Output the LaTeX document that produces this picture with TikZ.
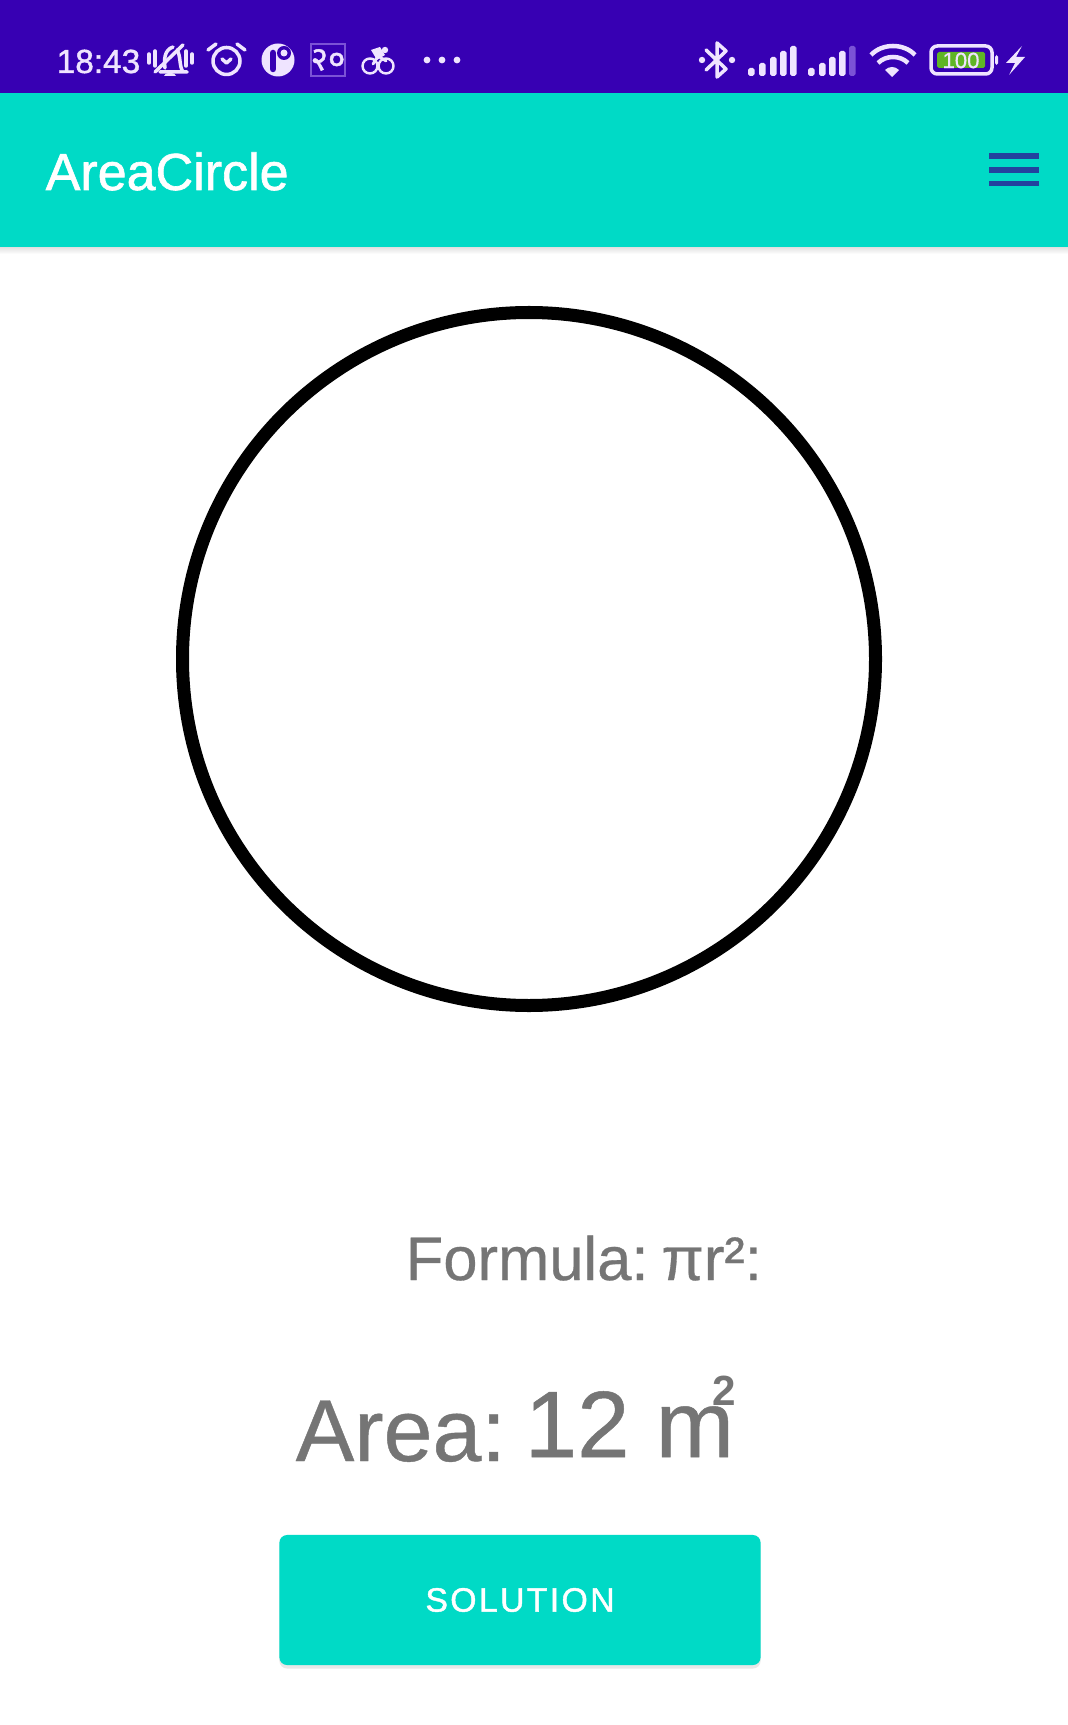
\documentclass[tikz,border=0pt]{standalone}
\usepackage{xcolor}
\usepackage{fontspec}
\setmainfont{Liberation Sans}
\newfontfamily\regfont[FakeBold=0.5]{Liberation Sans}
\newfontfamily\medfont[FakeBold=1.2]{Liberation Sans}
\newfontfamily\devafont[Script=Devanagari,FakeBold=1.2]{Noto Sans}
\usetikzlibrary{positioning,calc,shadows}

\definecolor{statusbg}{HTML}{3700B3}
\definecolor{tealbg}{HTML}{00DAC6}
\definecolor{iconfg}{HTML}{EFE4FF}
\definecolor{iconlow}{HTML}{7B52D6}
\definecolor{menublue}{HTML}{23429E}
\definecolor{textgray}{HTML}{757575}
\definecolor{battgreen}{HTML}{5FB526}

\tikzset{
    label/.style={inner sep=0pt, anchor=base west},
    icon/.style={draw=iconfg, line width=1pt, line cap=round, line join=round},
    menuline/.style={draw=menublue, line width=5.5*0.2845pt}
}

\begin{document}
\begin{tikzpicture}[x=0.01cm, y=-0.01cm]

    \useasboundingbox (0,0) rectangle (1068,1725);
    \fill[white] (0,0) rectangle (1068,1725);

    % Bars
    \fill[top color=black!12, bottom color=white] (0,247) rectangle (1068,254);
    \fill[tealbg] (0,93) rectangle (1068,247);
    \fill[statusbg] (0,0) rectangle (1068,93);

    % Status bar, left
    \node[label, text=iconfg, font=\medfont\fontsize{9.5pt}{12pt}\selectfont] (clock) at (56,73) {18:43};

    % Muted bell
    \draw[icon] (149,54) -- (149,63) (155,51) -- (155,66) (186,51) -- (186,66) (192,54) -- (192,63);
    \draw[icon] (160,72) -- (187,72) (183,72) .. controls (179,66) and (181,56) .. (177,50);
    \draw[icon] (165,68) .. controls (164,60) and (164,50) .. (173,47);
    \draw[icon] (155,72) -- (183,45);
    \fill[iconfg] (164,76) -- (176,76) arc (0:-180:6 and 3) -- cycle;

    % Alarm
    \draw[icon] (226.5,61) circle (13.5);
    \draw[icon] (208,50) -- (216,44) (245,50) -- (237,44);
    \draw[icon] (222,59) -- (226.5,63) -- (231,59);

    % Round badge
    \fill[iconfg] (278,60) circle (16.5);
    \draw[statusbg, line width=6.5*0.2845pt, line cap=round] (273,53) -- (273,69);
    \fill[statusbg] (284,53) circle (7);
    \fill[iconfg] (284,53) circle (3.5);

    % Boxed digits
    \node[draw=iconlow, line width=0.6pt, minimum width=32*0.2845pt, minimum height=32*0.2845pt, inner sep=0pt,
          text=iconfg, font=\devafont\fontsize{9.5pt}{10pt}\selectfont] (digits) at (328,60) {२०};

    % Cyclist
    \draw[icon, line width=0.7pt] (370,66) circle (7.5) (386,66) circle (7.5);
    \draw[icon, line width=0.8pt] (373,64) -- (378,56) -- (386,61);
    \fill[iconfg] (385,50) circle (3.2);
    \fill[iconfg] (371,50) -- (380,47) -- (385,55) -- (377,60) -- cycle;

    % Dots
    \foreach \x in {427,442,457}
        \fill[iconfg] (\x,60) circle (3.4);

    % Bluetooth
    \draw[icon] (706,50) -- (726,69) -- (717,77) -- (717,43) -- (726,51) -- (706,70);
    \fill[iconfg] (702,60) circle (3.2) (732,60) circle (3.2);

    % Signal bars
    \foreach \x/\t in {748/68,759/63,770/57,780/51,790/46}
        \fill[iconfg, rounded corners=0.5pt] (\x,76) rectangle ++(6.5,\t-76);
    \foreach \x/\t in {808/68,819/63,829/57,839/51}
        \fill[iconfg, rounded corners=0.5pt] (\x,76) rectangle ++(6.5,\t-76);
    \fill[iconlow, rounded corners=0.5pt] (849,76) rectangle (855.5,46);

    % Wifi
    \draw[icon, line width=4.5*0.2845pt, line cap=butt] (871,55) .. controls (882,43) and (904,43) .. (915,55);
    \draw[icon, line width=4.5*0.2845pt, line cap=butt] (878,63) .. controls (886,55) and (900,55) .. (908,63);
    \fill[iconfg] (892,77) -- (885,70) .. controls (889,66) and (895,66) .. (899,70) -- cycle;

    % Battery
    \draw[icon, rounded corners=1.8pt] (931,46) rectangle (992,74);
    \fill[battgreen, rounded corners=0.5pt] (937,52) rectangle (985,68);
    \node[text=iconfg, inner sep=0pt, font=\regfont\fontsize{6.3pt}{7pt}\selectfont] (battery) at (961,60.5) {100};
    \fill[iconfg, rounded corners=0.5pt] (995,55) rectangle (998,65);

    % Bolt
    \fill[iconfg] (1022,46) -- (1006,63) -- (1015,63) -- (1009,75) -- (1025,57) -- (1016,57) -- cycle;

    % App bar
    \node[label, text=white, font=\medfont\fontsize{14.8pt}{17pt}\selectfont] (title) at (45,190) {AreaCircle};
    \foreach \y in {156,170,183.5}
        \draw[menuline] (989,\y) -- (1039,\y);

    % Circle
    \draw[black, line width=13*0.2845pt] (529,659) circle (346.5);

    % Labels
    \node[label, text=textgray, font=\regfont\fontsize{17.5pt}{21pt}\selectfont] (formula) at (405,1280) {Formula:\hskip 0.21em πr²:};
    \node[label, text=textgray, font=\regfont\fontsize{25pt}{30pt}\selectfont] (area) at (295,1461) {Area:};
    \node[label, text=textgray, font=\regfont\fontsize{26.8pt}{30pt}\selectfont] (value) at (524,1457) {12 m};
    \node[label, text=textgray, font=\bfseries\fontsize{12pt}{14pt}\selectfont] (square) at (712,1405) {2};

    % Button
    \node[fill=tealbg, rounded corners=2.2pt, minimum width=481*0.2845pt, minimum height=130*0.2845pt, inner sep=0pt,
          drop shadow={shadow xshift=0pt, shadow yshift=-1pt, opacity=0.18},
          text=white, font=\medfont\fontsize{9.6pt}{12pt}\selectfont] (solution) at (520,1600)
          {\addfontfeature{LetterSpace=7}SOLUTION};

\end{tikzpicture}
\end{document}
